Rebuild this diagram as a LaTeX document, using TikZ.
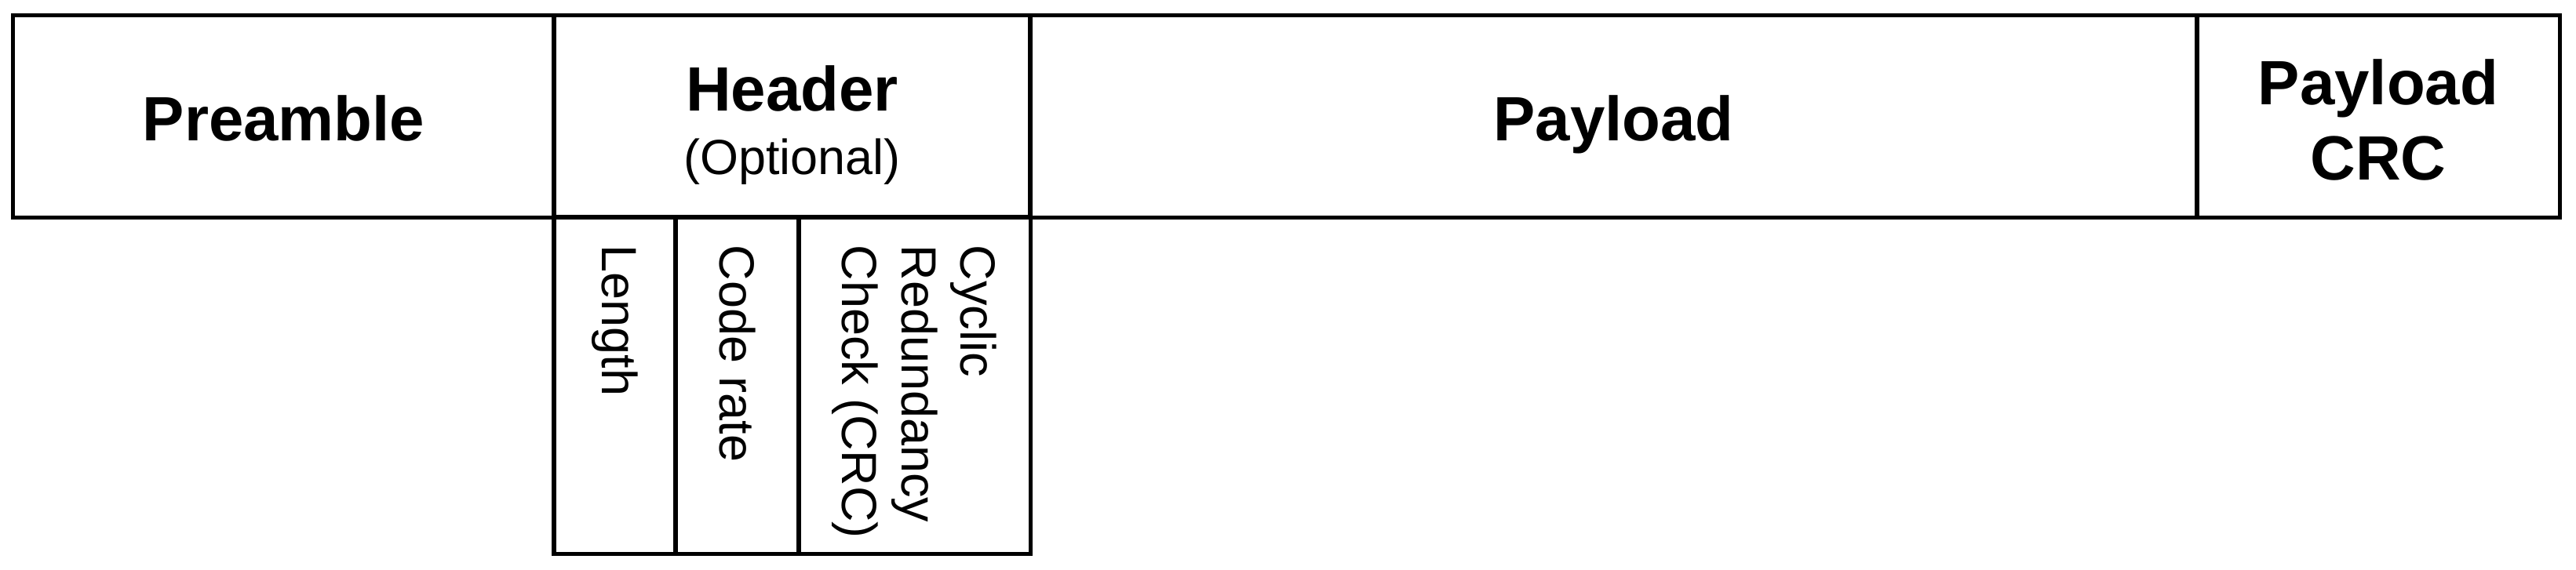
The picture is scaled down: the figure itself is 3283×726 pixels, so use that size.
\documentclass[tikz,border=0pt]{standalone}
\usepackage{fontspec}
\setmainfont{Liberation Sans}
\begin{document}
\begin{tikzpicture}[x=0.01cm, y=0.01cm,
        field/.style={draw, line width=1.45pt, inner sep=0pt, minimum height=2.57cm},
        subfield/.style={draw, line width=1.45pt, inner sep=0pt, minimum height=4.29cm},
        fieldname/.style={anchor=base, inner sep=0pt, font=\bfseries\fontsize{22.7}{27.3}\selectfont},
        remark/.style={inner sep=0pt, font=\fontsize{17.9}{21.5}\selectfont},
        vremark/.style={remark, rotate=-90, anchor=west, align=left}]
        \useasboundingbox (0,0) rectangle (3283,726);

        % Frame (4 fields)
        \node[field, minimum width=6.89cm] (preamble) at (361.5,577.5) {};
        \node[field, minimum width=6.07cm] (header) at (1009.5,577.5) {};
        \node[field, minimum width=14.87cm] (payload) at (2056.5,577.5) {};
        \node[field, minimum width=4.62cm] (payloadcrc) at (3031,577.5) {};

        % Header fields (3 columns)
        \node[subfield, minimum width=1.55cm] (lengthbox) at (783.5,234.5) {};
        \node[subfield, minimum width=1.57cm] (ratebox) at (939.5,234.5) {};
        \node[subfield, minimum width=2.95cm] (crcbox) at (1165.5,234.5) {};

        \node[fieldname] (preamblename) at (361.5,547) {Preamble};
        \node[fieldname] (headername) at (1009.5,585) {Header};
        \node[remark, anchor=base] (optional) at (1009.5,504) {(Optional)};
        \node[fieldname] (payloadname) at (2056.5,547) {Payload};
        \node[fieldname, anchor=center, align=center] (payloadcrcname) at (3031,573.5) {Payload\\CRC};

        \node[vremark] (length) at (783.5,414) {Length};
        \node[vremark] (coderate) at (939.5,414) {Code rate};
        \node[vremark] (crc) at (1165.5,414) {Cyclic\\Redundancy\\Check (CRC)};
    \end{tikzpicture}
\end{document}
